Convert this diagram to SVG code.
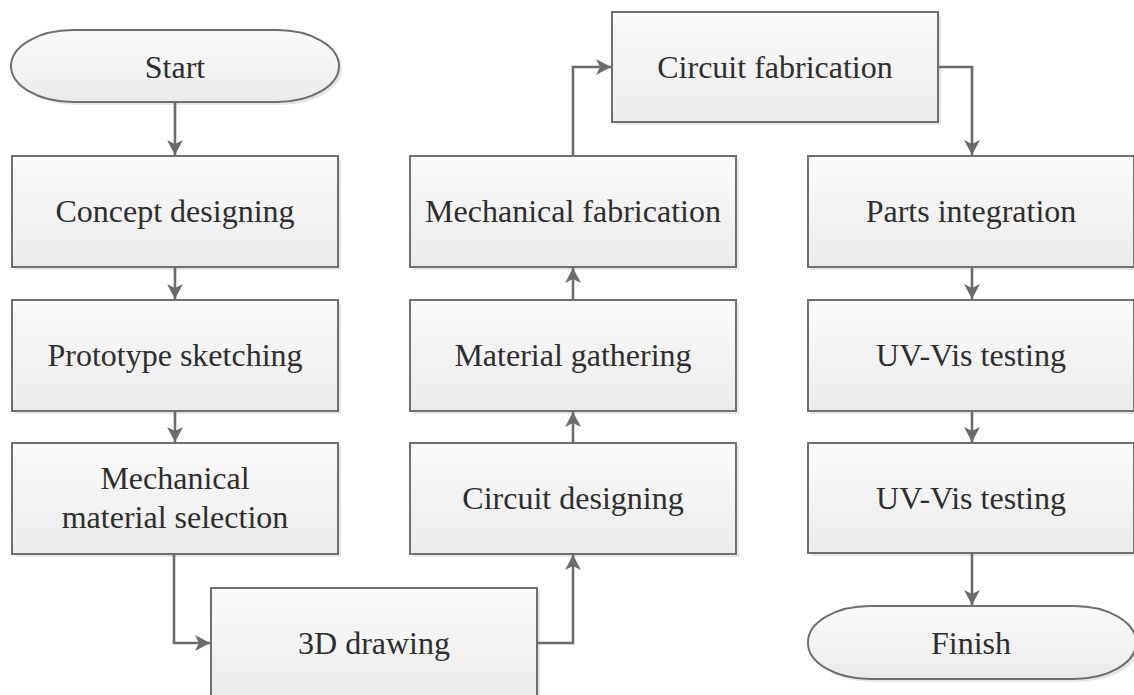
<svg xmlns="http://www.w3.org/2000/svg" width="1134" height="695" viewBox="0 0 1134 695">
  <style>
    .box { fill: url(#boxFill); stroke: #6f6f6f; stroke-width: 2; }
    .shadow { fill: #dcdcdc; opacity: 0.7; }
    .label { font-family: "Liberation Serif", "Times New Roman", serif; font-size: 32px; fill: #2e2e2e; text-anchor: middle; }
    .conn { fill: none; stroke: #6b6b6b; stroke-width: 2.6; stroke-linejoin: miter; marker-end: url(#arrow); }
  </style>
  <defs>
    <linearGradient id="boxFill" x1="0" y1="0" x2="0" y2="1">
      <stop offset="0" stop-color="#fbfbfb"/>
      <stop offset="1" stop-color="#ebebeb"/>
    </linearGradient>
    <marker id="arrow" markerUnits="userSpaceOnUse" markerWidth="20" markerHeight="20" viewBox="-16 -10 20 20" refX="0" refY="0" orient="auto">
      <path d="M0,0 L-15,-8 L-11,0 L-15,8 Z" fill="#6b6b6b"/>
    </marker>
  </defs>
  <rect width="1134" height="695" fill="#ffffff"/>

  <!-- left column -->
  <g id="start">
    <rect class="shadow" x="14" y="33" width="328" height="72" rx="62" ry="36"/>
    <rect class="box" x="11" y="30" width="328" height="72" rx="62" ry="36"/>
    <text class="label" x="175" y="78">Start</text>
  </g>
  <g id="concept">
    <rect class="shadow" x="15" y="159" width="326" height="111"/>
    <rect class="box" x="12" y="156" width="326" height="111"/>
    <text class="label" x="175" y="222">Concept designing</text>
  </g>
  <g id="prototype">
    <rect class="shadow" x="15" y="303" width="326" height="111"/>
    <rect class="box" x="12" y="300" width="326" height="111"/>
    <text class="label" x="175" y="366">Prototype sketching</text>
  </g>
  <g id="material-selection">
    <rect class="shadow" x="15" y="446" width="326" height="111"/>
    <rect class="box" x="12" y="443" width="326" height="111"/>
    <text class="label" x="175" y="489">Mechanical</text>
    <text class="label" x="175" y="528">material selection</text>
  </g>

  <!-- bottom -->
  <g id="drawing-3d">
    <rect class="shadow" x="214" y="591" width="326" height="111"/>
    <rect class="box" x="211" y="588" width="326" height="111"/>
    <text class="label" x="374" y="654">3D drawing</text>
  </g>

  <!-- middle column -->
  <g id="circuit-designing">
    <rect class="shadow" x="413" y="446" width="326" height="111"/>
    <rect class="box" x="410" y="443" width="326" height="111"/>
    <text class="label" x="573" y="509">Circuit designing</text>
  </g>
  <g id="material-gathering">
    <rect class="shadow" x="413" y="303" width="326" height="111"/>
    <rect class="box" x="410" y="300" width="326" height="111"/>
    <text class="label" x="573" y="366">Material gathering</text>
  </g>
  <g id="mechanical-fabrication">
    <rect class="shadow" x="413" y="159" width="326" height="111"/>
    <rect class="box" x="410" y="156" width="326" height="111"/>
    <text class="label" x="573" y="222">Mechanical fabrication</text>
  </g>

  <!-- top -->
  <g id="circuit-fabrication">
    <rect class="shadow" x="615" y="15" width="326" height="110"/>
    <rect class="box" x="612" y="12" width="326" height="110"/>
    <text class="label" x="775" y="78">Circuit fabrication</text>
  </g>

  <!-- right column -->
  <g id="parts-integration">
    <rect class="shadow" x="811" y="159" width="326" height="111"/>
    <rect class="box" x="808" y="156" width="326" height="111"/>
    <text class="label" x="971" y="222">Parts integration</text>
  </g>
  <g id="uv-vis-1">
    <rect class="shadow" x="811" y="303" width="326" height="111"/>
    <rect class="box" x="808" y="300" width="326" height="111"/>
    <text class="label" x="971" y="366">UV-Vis testing</text>
  </g>
  <g id="uv-vis-2">
    <rect class="shadow" x="811" y="446" width="326" height="110"/>
    <rect class="box" x="808" y="443" width="326" height="110"/>
    <text class="label" x="971" y="509">UV-Vis testing</text>
  </g>
  <g id="finish">
    <rect class="shadow" x="811" y="609" width="328" height="73" rx="62" ry="36"/>
    <rect class="box" x="808" y="606" width="328" height="73" rx="62" ry="36"/>
    <text class="label" x="971" y="654">Finish</text>
  </g>

  <!-- connectors -->
  <g id="connectors">
    <path class="conn" d="M175,102 L175,155"/>
    <path class="conn" d="M175,267 L175,299"/>
    <path class="conn" d="M175,411 L175,442"/>
    <path class="conn" d="M174,554 L174,643 L210,643"/>
    <path class="conn" d="M537,643 L573,643 L573,555"/>
    <path class="conn" d="M573,443 L573,412"/>
    <path class="conn" d="M573,300 L573,268"/>
    <path class="conn" d="M573,156 L573,67 L611,67"/>
    <path class="conn" d="M938,67 L972,67 L972,155"/>
    <path class="conn" d="M972,267 L972,299"/>
    <path class="conn" d="M972,411 L972,442"/>
    <path class="conn" d="M972,553 L972,605"/>
  </g>
</svg>
